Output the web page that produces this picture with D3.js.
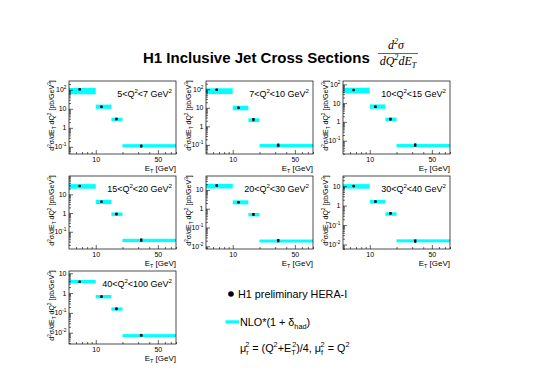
<!DOCTYPE html>
<html>
<head>
<meta charset="utf-8">
<script src="https://cdn.jsdelivr.net/npm/d3@7"></script>
<style>
  body { margin: 0; background: #fff; }
  svg text { font-family: "Liberation Sans", Arial, sans-serif; fill: #000; }
  .tick line { stroke: #000; stroke-width: 0.6; }
</style>
</head>
<body>
<svg id="chart" width="540" height="382"></svg>
<script>
// H1 inclusive jet cross sections, one panel per Q2 bin

// Q2 bin limits (GeV^2)
const q2Low = [5, 7, 10, 15, 20, 30, 40];
const q2High = [7, 10, 15, 20, 30, 40, 100];

// E_T bins (GeV) and mean E_T of each bin
const etEdges = [5, 10, 15, 20, 80];
const etMean = [6.6, 11.6, 17.1, 32.5];
const etMinorTicks = [6, 7, 8, 9, 20, 30, 40, 60, 70, 80];
const etLabelTicks = [10, 50];

// H1 preliminary HERA-I points [pb/GeV^3]
const h1Xsec = [
  [105, 12.7, 2.9, 0.11],
  [95, 10, 2.3, 0.095],
  [50, 6.4, 1.4, 0.059],
  [28, 4.0, 0.89, 0.036],
  [17, 2.2, 0.5, 0.02],
  [10, 1.6, 0.4, 0.015],
  [3.7, 0.66, 0.16, 0.0074]
];
const h1Err = [
  [6, 0.9, 0.3, 0.015],
  [6, 0.8, 0.35, 0.018],
  [3, 0.5, 0.15, 0.01],
  [1.8, 0.3, 0.1, 0.006],
  [1.1, 0.17, 0.05, 0.003],
  [0.6, 0.12, 0.04, 0.0025],
  [0.25, 0.05, 0.015, 0.0009]
];

// NLO*(1+delta_had) band, low and high edge
const nloLow = [
  [58, 10, 2.3, 0.093],
  [55, 7.3, 1.7, 0.074],
  [33, 5, 1.1, 0.045],
  [20, 3.0, 0.7, 0.028],
  [12, 1.7, 0.39, 0.016],
  [7.4, 1.26, 0.3, 0.013],
  [3.1, 0.54, 0.13, 0.006]
];
const nloHigh = [
  [125, 16.6, 3.4, 0.138],
  [113, 12.9, 2.7, 0.11],
  [66, 8.5, 1.7, 0.066],
  [35, 5.1, 1.07, 0.042],
  [21, 2.8, 0.59, 0.023],
  [12.6, 1.95, 0.45, 0.0185],
  [4.6, 0.8, 0.19, 0.0085]
];

// y range of each panel
const yRanges = [
  [0.042, 290],
  [0.032, 280],
  [0.0196, 150],
  [0.012, 95],
  [0.0072, 55],
  [0.0059, 33],
  [0.0027, 13]
];

const PANEL_W = 107;
const PANEL_H = 73;
const panelLeft = [69, 206, 343];
const panelTop = [81, 176, 271];

const svg = d3.select('#chart');

// writes text with super/subscripts, parts = [string, kind, dx]
function richText(sel, parts, size)
{
  let shift = 0;
  parts.forEach(([str, kind, dx]) => {
    const target = kind === 'sup' ? -size * 0.42 : kind === 'sub' ? size * 0.28 : 0;
    const t = sel.append('tspan')
      .attr('dy', target - shift)
      .attr('font-size', kind === 'n' ? size : size * 0.68)
      .text(str);
    if (dx) t.attr('dx', dx);
    shift = target;
  });
  return sel;
}

function decadeLabel(n)
{
  if (n === 0) return [['1', 'n']];
  if (n === 1) return [['10', 'n']];
  return [['10', 'n'], [String(n), 'sup']];
}

function drawPanel(i)
{
  const col = i % 3, row = Math.floor(i / 3);
  const g = svg.append('g')
    .attr('transform', `translate(${panelLeft[col]},${panelTop[row]})`);

  const x = d3.scaleLog().domain([etEdges[0], etEdges[etEdges.length - 1]]).range([0, PANEL_W]);
  const y = d3.scaleLog().domain(yRanges[i]).range([PANEL_H, 0]);
  const bins = d3.range(etMean.length);

  // NLO band
  g.selectAll('rect.nlo').data(bins).join('rect')
    .attr('class', 'nlo')
    .attr('x', j => x(etEdges[j]))
    .attr('width', j => x(etEdges[j + 1]) - x(etEdges[j]))
    .attr('y', j => y(nloHigh[i][j]))
    .attr('height', j => y(nloLow[i][j]) - y(nloHigh[i][j]))
    .attr('fill', '#00ffff');

  // error bars
  const err = g.selectAll('g.err').data(bins).join('g').attr('class', 'err');
  err.append('line')
    .attr('x1', j => x(etMean[j])).attr('x2', j => x(etMean[j]))
    .attr('y1', j => y(h1Xsec[i][j] + h1Err[i][j]))
    .attr('y2', j => y(h1Xsec[i][j] - h1Err[i][j]))
    .attr('stroke', '#000').attr('stroke-width', 0.8);
  [1, -1].forEach(s => {
    err.append('line')
      .attr('x1', j => x(etMean[j]) - 1.3).attr('x2', j => x(etMean[j]) + 1.3)
      .attr('y1', j => y(h1Xsec[i][j] + s * h1Err[i][j]))
      .attr('y2', j => y(h1Xsec[i][j] + s * h1Err[i][j]))
      .attr('stroke', '#000').attr('stroke-width', 0.6);
  });

  // data points
  g.selectAll('circle.pt').data(bins).join('circle')
    .attr('class', 'pt')
    .attr('cx', j => x(etMean[j]))
    .attr('cy', j => y(h1Xsec[i][j]))
    .attr('r', 1.3)
    .attr('fill', '#000');

  // x axis, ticks pointing inside
  g.append('g').attr('transform', `translate(0,${PANEL_H})`)
    .call(d3.axisBottom(x).tickValues(etMinorTicks).tickSize(-2).tickFormat(''))
    .call(a => a.select('.domain').remove());
  g.append('g').attr('transform', `translate(0,${PANEL_H})`)
    .call(d3.axisBottom(x).tickValues(etLabelTicks).tickSize(-4).tickPadding(3).tickFormat(d3.format('d')))
    .call(a => a.select('.domain').remove())
    .selectAll('text').attr('font-size', '7px').attr('font-family', '"Liberation Sans", Arial, sans-serif');

  // y axis
  const yTicks = y.ticks();
  const decades = yTicks.filter(v => Math.abs(Math.log10(v) - Math.round(Math.log10(v))) < 1e-9);
  const minors = yTicks.filter(v => !decades.includes(v));
  g.append('g')
    .call(d3.axisLeft(y).tickValues(minors).tickSize(-2).tickFormat(''))
    .call(a => a.select('.domain').remove());
  g.append('g')
    .call(d3.axisLeft(y).tickValues(decades).tickSize(-4).tickFormat(''))
    .call(a => a.select('.domain').remove());
  decades.forEach(v => {
    const t = g.append('text')
      .attr('x', -2.5)
      .attr('y', y(v) + 2.5)
      .attr('text-anchor', 'end');
    richText(t, decadeLabel(Math.round(Math.log10(v))), 7);
  });

  // frame
  g.append('rect')
    .attr('width', PANEL_W).attr('height', PANEL_H)
    .attr('fill', 'none').attr('stroke', '#000').attr('stroke-width', 0.7);

  // axis titles
  richText(g.append('text')
    .attr('text-anchor', 'middle')
    .attr('transform', `translate(-15,${PANEL_H / 2 - 2}) rotate(-90)`),
    [['d', 'n'], ['2', 'sup'], ['σ/dE', 'n'], ['T', 'sub'], [' dQ', 'n'], ['2', 'sup'], [' [pb/GeV', 'n'], ['3', 'sup'], [']', 'n']], 7);
  richText(g.append('text')
    .attr('x', PANEL_W).attr('y', PANEL_H + 17)
    .attr('text-anchor', 'end'),
    [['E', 'n'], ['T', 'sub'], [' [GeV]', 'n']], 8);

  // Q2 bin label
  richText(g.append('text')
    .attr('x', PANEL_W - 4).attr('y', 16)
    .attr('text-anchor', 'end'),
    [[q2Low[i] + '<Q', 'n'], ['2', 'sup'], ['<' + q2High[i] + ' GeV', 'n'], ['2', 'sup']], 9);
}

d3.range(q2Low.length).forEach(drawPanel);

// title
svg.append('text')
  .attr('x', 143).attr('y', 63)
  .attr('font-size', '15px').attr('font-weight', 'bold')
  .text('H1 Inclusive Jet Cross Sections');

const serif = '"Liberation Serif", "DejaVu Serif", serif';
richText(svg.append('text')
  .attr('x', 396).attr('y', 49).attr('text-anchor', 'middle')
  .attr('font-style', 'italic').style('font-family', serif),
  [['d', 'n'], ['2', 'sup'], ['σ', 'n']], 12);
svg.append('line')
  .attr('x1', 378).attr('x2', 418).attr('y1', 53.5).attr('y2', 53.5)
  .attr('stroke', '#000').attr('stroke-width', 0.6);
richText(svg.append('text')
  .attr('x', 398).attr('y', 65).attr('text-anchor', 'middle')
  .attr('font-style', 'italic').style('font-family', serif),
  [['dQ', 'n'], ['2', 'sup'], ['dE', 'n'], ['T', 'sub']], 12);

// legend
svg.append('circle').attr('cx', 231).attr('cy', 294).attr('r', 2.8).attr('fill', '#000');
svg.append('text').attr('x', 238).attr('y', 297.5).attr('font-size', '10.8px')
  .text('H1 preliminary HERA-I');

svg.append('rect').attr('x', 225.5).attr('y', 320.3).attr('width', 13.5).attr('height', 3.2)
  .attr('fill', '#00ffff');
richText(svg.append('text').attr('x', 240).attr('y', 325.5),
  [['NLO*(1 + δ', 'n'], ['had', 'sub'], [')', 'n']], 10.8);

richText(svg.append('text').attr('x', 240).attr('y', 352),
  [['μ', 'n'], ['r', 'sub'], ['2', 'sup', -3.5], [' = (Q', 'n'], ['2', 'sup'], ['+E', 'n'], ['T', 'sub'], ['2', 'sup', -3.5],
   [')/4, μ', 'n'], ['f', 'sub'], ['2', 'sup', -2.5], [' = Q', 'n'], ['2', 'sup']], 10.8);
</script>
</body>
</html>
